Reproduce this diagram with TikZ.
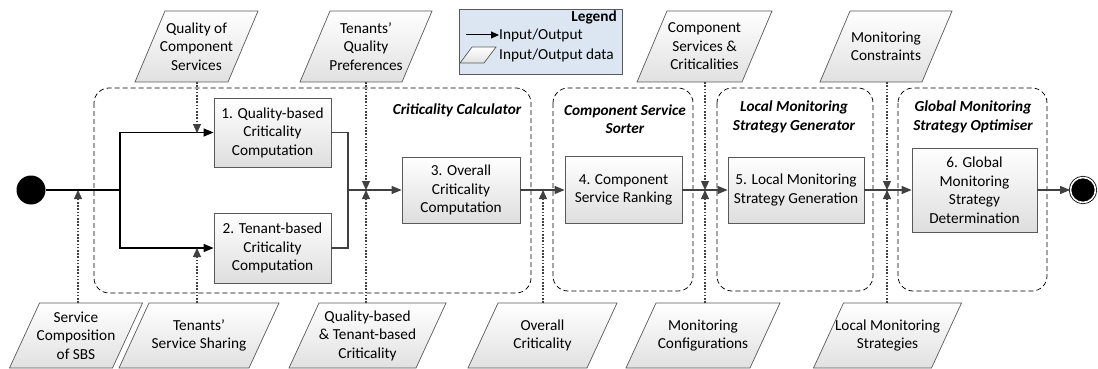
\documentclass[tikz,border=0pt]{standalone}
\usepackage{fontspec}
\setmainfont{Carlito}
\usetikzlibrary{arrows.meta,calc}
\definecolor{lineg}{HTML}{404040}
\definecolor{boxb}{HTML}{595959}
\definecolor{legfill}{HTML}{DCE6F2}
\newcommand\fsz{\fontsize{15.3}{18.5}\selectfont}
\tikzset{
  procbox/.style={draw=boxb, line width=0.8pt, top color=white, bottom color=black!13, align=center, inner sep=2pt, font=\fsz},
  iofill/.style={draw=boxb, line width=0.7pt, top color=white, bottom color=black!12},
  iotext/.style={align=center, inner sep=0pt, font=\fsz, minimum width=20pt},
  container/.style={draw=black, line width=0.75pt, dash pattern=on 5pt off 3pt, rounded corners=15pt},
  ctitle/.style={align=center, font=\fsz\bfseries\itshape},
  flow/.style={draw=lineg, line width=1.1pt, -{Triangle[length=10pt,width=8pt]}},
  flowk/.style={draw=black, line width=1.2pt},
  dataarr/.style={draw=lineg, line width=1.1pt, dash pattern=on 1.6pt off 1.6pt, -{Triangle[length=9pt,width=8pt]}},
}
% name, cx, cy, top-edge width, height, slant, text
\newcommand\iodata[7]{%
  \path[iofill] ({#2-#4/2+#6/2},{#3-#5/2}) -- ({#2+#4/2+#6/2},{#3-#5/2}) -- ({#2+#4/2-#6/2},{#3+#5/2}) -- ({#2-#4/2-#6/2},{#3+#5/2}) -- cycle;
  \node[iotext, minimum height=#5] (#1) at (#2,#3) {#7};
}
\begin{document}
\begin{tikzpicture}[x=1pt,y=-1pt]
\useasboundingbox (0,0) rectangle (1098,369);

% containers
\draw[container] (94,88) rectangle (531,293);
\draw[container] (553,88) rectangle (693,291);
\draw[container] (717,88) rectangle (873,291);
\draw[container] (898,88) rectangle (1047,291);
\node[ctitle] (t1) at (457,110) {Criticality Calculator};
\node[ctitle] (t2) at (625,119) {Component Service\\Sorter};
\node[ctitle] (t3) at (794,117) {Local Monitoring\\Strategy Generator};
\node[ctitle] (t4) at (973,117) {Global Monitoring\\Strategy Optimiser};

% legend
\node[draw=boxb, line width=0.8pt, fill=legfill, minimum width=163pt, minimum height=65pt, inner sep=0pt] (legend) at (540.5,41.5) {};
\node[anchor=north east, font=\fsz\bfseries, inner sep=0pt] (legtitle) at (617,11) {Legend};
\coordinate (legA) at (466,35);
\node[anchor=west, font=\fsz, inner sep=0pt] (legio) at (499,35) {Input/Output};
\draw[draw=black, line width=1pt, -{Triangle[length=8pt,width=7pt]}] (legA) -- (legio.west);
\path[iofill] (472,47) -- (496,47) -- (484,63) -- (460,63) -- cycle;
\node[anchor=west, font=\fsz, inner sep=0pt] (legdata) at (499,55) {Input/Output data};

% process boxes
\node[procbox, minimum width=117pt, minimum height=69pt] (b1) at (272.5,132.5) {1. Quality-based\\Criticality\\Computation};
\node[procbox, minimum width=117pt, minimum height=70pt] (b2) at (272.5,248) {2. Tenant-based\\Criticality\\Computation};
\node[procbox, minimum width=118pt, minimum height=66pt] (b3) at (461,190) {3. Overall\\Criticality\\Computation};
\node[procbox, minimum width=117pt, minimum height=67pt] (b4) at (623.5,190) {4. Component\\Service Ranking};
\node[procbox, minimum width=136pt, minimum height=66pt] (b5) at (796,190) {5. Local Monitoring\\Strategy Generation};
\node[procbox, minimum width=125pt, minimum height=84pt] (b6) at (974.5,190) {6. Global\\Monitoring\\Strategy\\Determination};

% start / end
\node[circle, fill=black, minimum size=29pt, inner sep=0pt] (start) at (31,190) {};
\node[circle, fill=black, draw=black, double=white, double distance=1.6pt, line width=0.8pt, minimum size=25pt, inner sep=0pt] (end) at (1083,190) {};

% junctions
\coordinate (split) at (120,190);
\coordinate (merge) at (348,190);
\coordinate (j1) at (197,133);
\coordinate (j2) at (197,248);
\coordinate (j0) at (78,190);
\coordinate (jm) at (366,190);
\coordinate (jo) at (543,190);
\coordinate (jc) at (705,190);
\coordinate (jl) at (887,190);

% flows
\draw[flowk] (start) -- (split);
\draw[flowk, -{Triangle[length=10pt,width=8pt]}] (split) |- (b1.west);
\draw[flowk, -{Triangle[length=10pt,width=8pt]}] (split) |- (b2.west);
\draw[draw=lineg, line width=1.1pt] (b1.east) -| (merge);
\draw[draw=lineg, line width=1.1pt] (b2.east) -| (merge);
\draw[flow] (merge) -- (b3.west);
\draw[flow] (b3.east) -- (b4.west);
\draw[flow] (b4.east) -- (b5.west);
\draw[flow] (b5.east) -- (b6.west);
\draw[flow] (b6.east) -- (end.west);

% data nodes top
\iodata{qcs}{196.5}{46.5}{93}{71}{30}{Quality of\\Component\\Services}
\iodata{tqp}{366}{46.5}{102}{71}{30}{Tenants’\\Quality\\Preferences}
\iodata{csc}{704.5}{46.5}{105}{71}{30}{Component\\Services \&\\Criticalities}
\iodata{mc}{886}{46.5}{102}{71}{30}{Monitoring\\Constraints}
% data nodes bottom
\iodata{scs}{76}{335.5}{103}{65}{30}{Service\\Composition\\of SBS}
\iodata{tss}{199}{335.5}{130}{65}{30}{Tenants’\\Service Sharing}
\iodata{qtc}{367.5}{335.5}{127}{65}{30}{Quality-based\\\& Tenant-based\\Criticality}
\iodata{oc}{542.5}{335.5}{119}{65}{30}{Overall\\Criticality}
\iodata{mcf}{703}{335.5}{124}{65}{30}{Monitoring\\Configurations}
\iodata{lms}{887.5}{335.5}{118}{65}{30}{Local Monitoring\\Strategies}

% data arrows
\draw[dataarr] (qcs.south -| j1) -- (j1);
\draw[dataarr] (tqp.south -| jm) -- (jm);
\draw[dataarr] (qtc.north -| jm) -- (jm);
\draw[dataarr] (scs.north -| j0) -- (j0);
\draw[dataarr] (tss.north -| j2) -- (j2);
\draw[dataarr] (oc.north -| jo) -- (jo);
\draw[dataarr] (csc.south -| jc) -- (jc);
\draw[dataarr] (mcf.north -| jc) -- (jc);
\draw[dataarr] (mc.south -| jl) -- (jl);
\draw[dataarr] (lms.north -| jl) -- (jl);
\end{tikzpicture}
\end{document}
